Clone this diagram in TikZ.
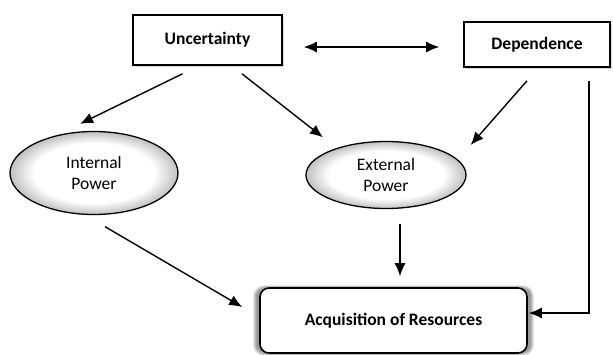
\documentclass[tikz,border=0pt]{standalone}
\usepackage{fontspec}
\setmainfont{Carlito}
\usetikzlibrary{shapes.geometric,shadows,shadows.blur,arrows.meta}
\pgfdeclareradialshading{powershade}{\pgfpoint{0bp}{0bp}}{color(0bp)=(white); color(18bp)=(white); color(25bp)=(gray!50); color(50bp)=(gray!50)}
\tikzset{
  factor/.style={draw, line width=1.6pt, fill=white, inner sep=0pt,
    drop shadow={shadow xshift=2pt, shadow yshift=-2pt, fill=gray!60},
    font=\bfseries\fontsize{17.5}{20}\selectfont},
  power/.style={ellipse, draw, line width=1.3pt, shading=powershade, inner sep=0pt,
    align=center, font=\fontsize{17.5}{21}\selectfont},
  outcome/.style={draw, line width=1.6pt, fill=white, rounded corners=9pt, inner sep=0pt,
    blur shadow={shadow xshift=0pt, shadow yshift=0pt, shadow scale=1.04, shadow blur steps=6},
    font=\bfseries\fontsize{17.5}{20}\selectfont},
  link/.style={line width=1.4pt, -{Latex[length=13pt,width=11pt]}}
}
\begin{document}
\begin{tikzpicture}[x=1pt, y=-1pt]
            \useasboundingbox (0,0) rectangle (613,354);
            %boxes and ellipses
            \node[factor, minimum width=149pt, minimum height=50pt] (unc) at (207.5,40) {Uncertainty};
            \node[factor, minimum width=146pt, minimum height=45pt] (dep) at (537,44.5) {Dependence};
            \node[power, minimum width=168pt, minimum height=83pt] (int) at (94,173) {Internal\\Power};
            \node[power, minimum width=160pt, minimum height=67pt] (ext) at (386,175) {External\\Power};
            \node[outcome, minimum width=267pt, minimum height=65pt] (acq) at (393.5,320.5) {Acquisition of Resources};
            
            %links
            \draw[link, {Latex[length=13pt,width=11pt]}-{Latex[length=13pt,width=11pt]}] ([shift={(21,7)}]unc.east) -- ([shift={(-24,2.5)}]dep.west);
            \draw[link] ([shift={(-25,8)}]unc.south) -- ([shift={(-14,-7)}]int.north);
            \draw[link] ([shift={(34.5,8)}]unc.south) -- ([shift={(-63,-3.5)}]ext.north);
            \draw[link] ([shift={(-10,13)}]dep.south) -- ([shift={(4,-30)}]ext.east);
            \draw[link] ([shift={(52,13)}]dep.south) |- ([shift={(1,-7.5)}]acq.east);
            \draw[link] ([shift={(11,11.5)}]int.south) -- ([shift={(-17,-13.5)}]acq.west);
            \draw[link] ([shift={(14,14.5)}]ext.south) -- ([shift={(6.5,-11)}]acq.north);
            
\end{tikzpicture}
\end{document}
